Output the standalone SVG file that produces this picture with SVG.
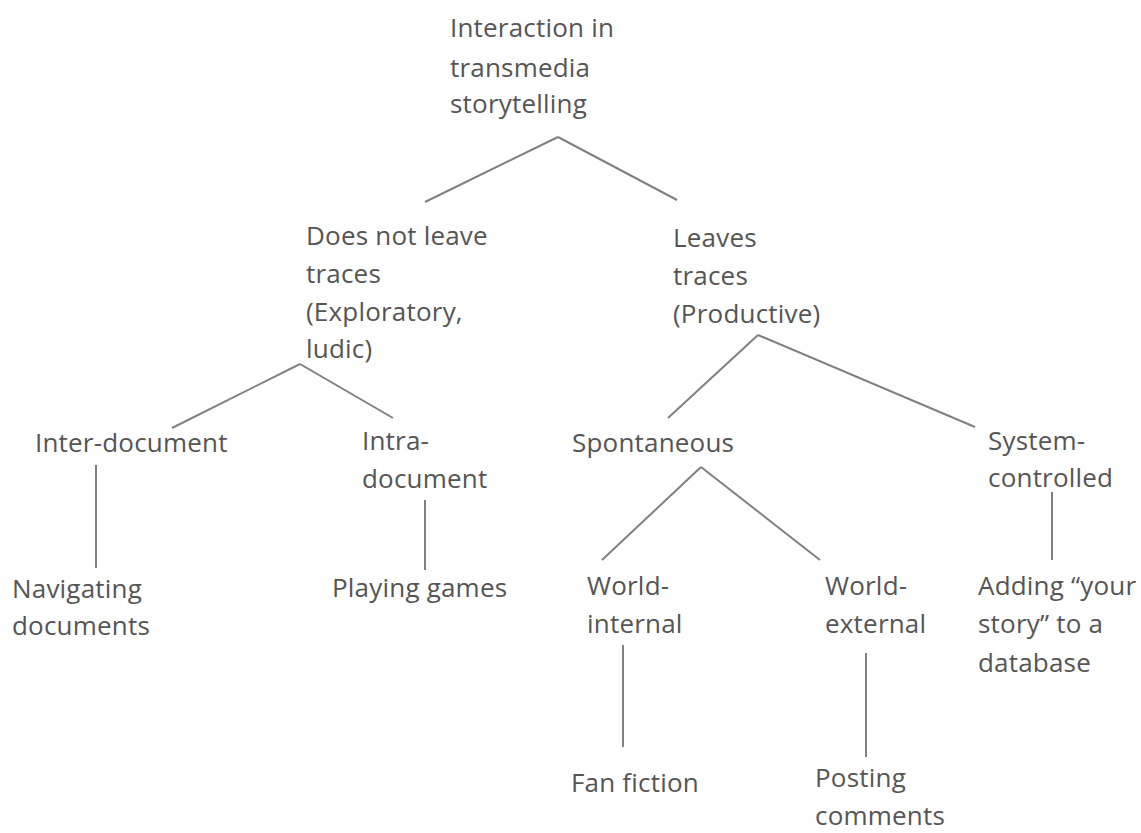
<svg xmlns="http://www.w3.org/2000/svg" width="1141" height="833" viewBox="0 0 1141 833">
<style>
text{font-family:"Open Sans","Noto Sans",sans-serif;font-size:26px;letter-spacing:0.2px;fill:#555}
.c line{stroke:#808080;stroke-width:2;stroke-linecap:butt}
</style>
<rect width="1141" height="833" fill="#fff"/>
<g class="c" id="connectors">
<line x1="558" y1="137" x2="425" y2="202"/>
<line x1="558" y1="137" x2="677" y2="200"/>
<line x1="300" y1="364" x2="172" y2="428"/>
<line x1="300" y1="364" x2="393" y2="418"/>
<line x1="758" y1="335" x2="668" y2="418"/>
<line x1="758" y1="335" x2="975" y2="427"/>
<line x1="96" y1="465" x2="96" y2="568"/>
<line x1="425" y1="500" x2="425" y2="570"/>
<line x1="701" y1="467" x2="602" y2="560"/>
<line x1="701" y1="467" x2="820" y2="560"/>
<line x1="1052" y1="492" x2="1052" y2="560"/>
<line x1="623" y1="645" x2="623" y2="747"/>
<line x1="866" y1="653" x2="866" y2="757"/>
</g>
<g id="root"><text x="450" y="37">Interaction in</text><text x="450" y="77">transmedia</text><text x="450" y="113">storytelling</text></g>
<g id="no-traces"><text x="306" y="245">Does not leave</text><text x="306" y="283">traces</text><text x="306" y="321">(Exploratory,</text><text x="306" y="358">ludic)</text></g>
<g id="traces"><text x="673" y="247">Leaves</text><text x="673" y="285">traces</text><text x="673" y="323">(Productive)</text></g>
<g id="inter"><text x="35" y="452">Inter-document</text></g>
<g id="intra"><text x="362" y="450">Intra-</text><text x="362" y="488">document</text></g>
<g id="spont"><text x="572" y="452">Spontaneous</text></g>
<g id="system"><text x="988" y="450">System-</text><text x="988" y="487">controlled</text></g>
<g id="nav"><text x="12" y="598">Navigating</text><text x="12" y="635">documents</text></g>
<g id="games"><text x="332" y="597">Playing games</text></g>
<g id="w-int"><text x="587" y="595">World-</text><text x="587" y="633">internal</text></g>
<g id="w-ext"><text x="825" y="595">World-</text><text x="825" y="633">external</text></g>
<g id="adding"><text x="978" y="595">Adding “your</text><text x="978" y="633">story” to a</text><text x="978" y="672">database</text></g>
<g id="fan"><text x="571" y="792">Fan fiction</text></g>
<g id="posting"><text x="815" y="787">Posting</text><text x="815" y="825">comments</text></g>
</svg>
